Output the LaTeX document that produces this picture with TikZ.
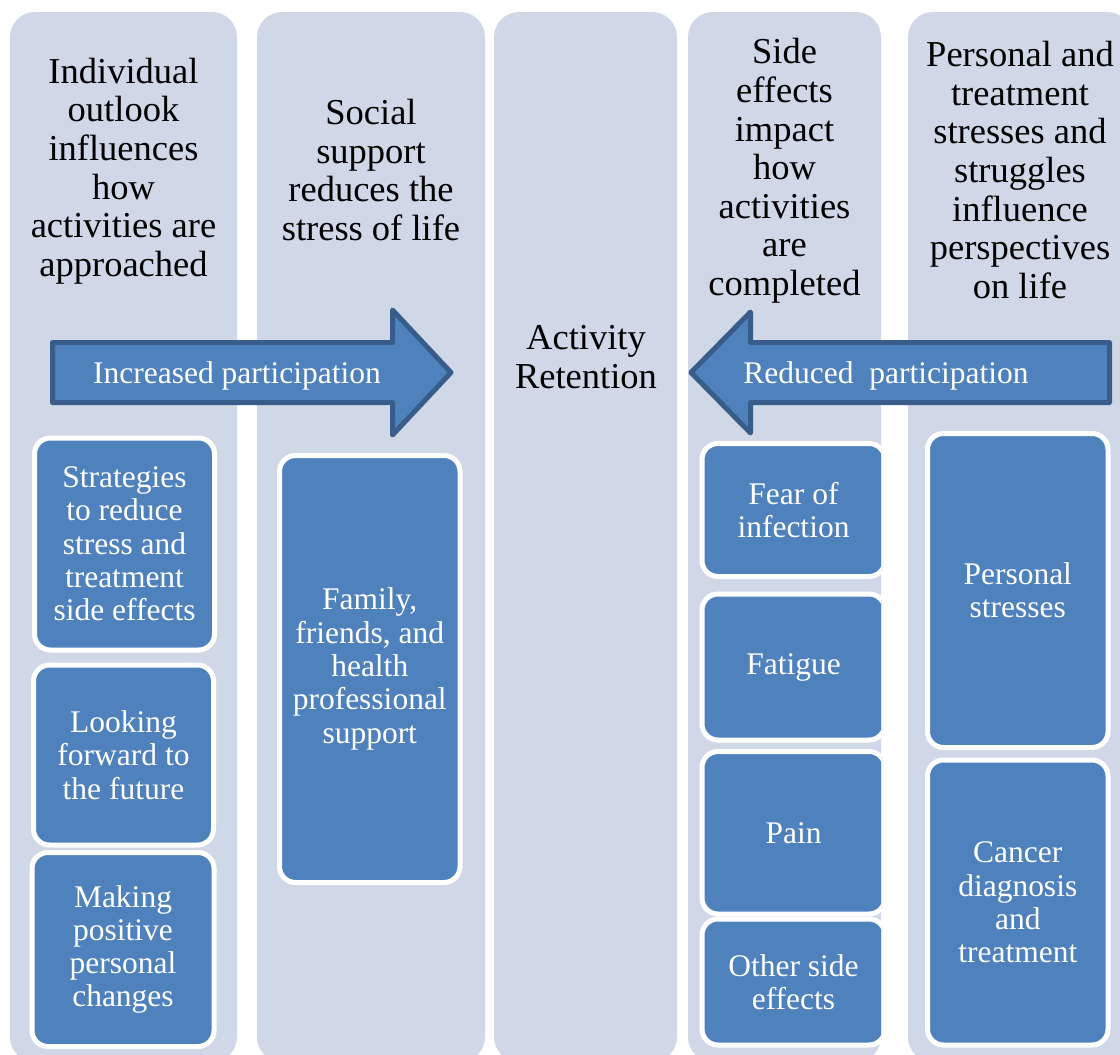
\documentclass[tikz,border=0pt]{standalone}
\usepackage{fontspec}
\setmainfont{Liberation Serif}
\usepackage{xcolor}
\usepackage{tikz}
\usetikzlibrary{positioning}
\definecolor{laneColor}{HTML}{D0D8E8}
\definecolor{itemColor}{HTML}{4F81BD}
\definecolor{edgeColor}{HTML}{385D8A}

\begin{document}
\begin{tikzpicture}[
  x=1pt, y=-1pt,
  lane/.style={
    fill=laneColor,
    rounded corners=25pt
  },
  header/.style={
    align=center,
    text=black,
    inner sep=0pt,
    font=\fontsize{36.5}{38.6}\selectfont
  },
  item/.style={
    rectangle,
    draw=white,
    fill=itemColor,
    rounded corners=16pt,
    line width=5pt,
    align=center,
    text=white,
    inner sep=0pt,
    font=\fontsize{31.5}{33.3}\selectfont
  },
  flow/.style={
    draw=edgeColor,
    fill=itemColor,
    line width=5pt,
    line join=round
  },
  flowtext/.style={
    text=white,
    inner sep=0pt,
    font=\fontsize{31.5}{33.3}\selectfont
  }
]
  \useasboundingbox (0,0) rectangle (1120,1055);
  \fill[white] (0,0) rectangle (1120,1055);
  \clip (0,0) rectangle (1120,1055);

  % Define lanes
  \fill[lane] (10,12) rectangle (237,1062);
  \fill[lane] (257,12) rectangle (485,1062);
  \fill[lane] (494,12) rectangle (677,1062);
  \fill[lane] (688,12) rectangle (881,1062);
  \fill[lane] (908,12) rectangle (1132,1062);

  % Lane headings
  \node[header] (outlook) at (123.5,171) {Individual\\ outlook\\ influences\\ how\\ activities are\\ approached};
  \node[header] (social) at (371,170) {Social\\ support\\ reduces the\\ stress of life};
  \node[header] (retention) at (586,357) {Activity\\ Retention};
  \node[header] (sideeffects) at (784.5,171) {Side\\ effects\\ impact\\ how\\ activities\\ are\\ completed};
  \node[header] (stresses) at (1020,170) {Personal and\\ treatment\\ stresses and\\ struggles\\ influence\\ perspectives\\ on life};

  % Block arrows
  \draw[flow] (52.5,342.5) -- (392.5,342.5) -- (392.5,310) -- (451,372.5)
    -- (392.5,435) -- (392.5,402.5) -- (52.5,402.5) -- cycle;
  \node[flowtext] (increased) at (237,376) {Increased participation};
  \draw[flow] (691,372.5) -- (750.5,312) -- (750.5,342.5) -- (1109.5,342.5)
    -- (1109.5,402.5) -- (750.5,402.5) -- (750.5,433) -- cycle;
  \node[flowtext] (reduced) at (886,376) {Reduced~ participation};

  % Items in the first two lanes
  \node[item, minimum width=180pt, minimum height=212pt] (strategies) at (124.5,544) {Strategies\\ to reduce\\ stress and\\ treatment\\ side effects};
  \node[item, minimum width=180pt, minimum height=180pt] (future) at (123.5,755) {Looking\\ forward to\\ the future};
  \node[item, minimum width=182pt, minimum height=194pt] (changes) at (123,949.5) {Making\\ positive\\ personal\\ changes};
  \node[item, minimum width=180.5pt, minimum height=427pt] (support) at (369.75,669) {Family,\\ friends, and\\ health\\ professional\\ support};

  % Items in the side effects lane, cut at its edge
  \begin{scope}
    \clip (680,420) rectangle (881,1055);
    \node[item, minimum width=183pt, minimum height=133pt] (infection) at (793.5,510) {Fear of\\ infection};
    \node[item, minimum width=183pt, minimum height=146pt] (fatigue) at (793.5,667) {Fatigue};
    \node[item, minimum width=183pt, minimum height=162.5pt] (pain) at (793.5,832.75) {Pain};
    \node[item, minimum width=183pt, minimum height=126pt] (other) at (793.5,982) {Other side\\ effects};
  \end{scope}

  % Items in the last lane
  \node[item, minimum width=180.5pt, minimum height=314pt] (personal) at (1017.75,590.5) {Personal\\ stresses};
  \node[item, minimum width=180.5pt, minimum height=285pt] (cancer) at (1017.75,902.5) {Cancer\\ diagnosis\\ and\\ treatment};
\end{tikzpicture}
\end{document}
